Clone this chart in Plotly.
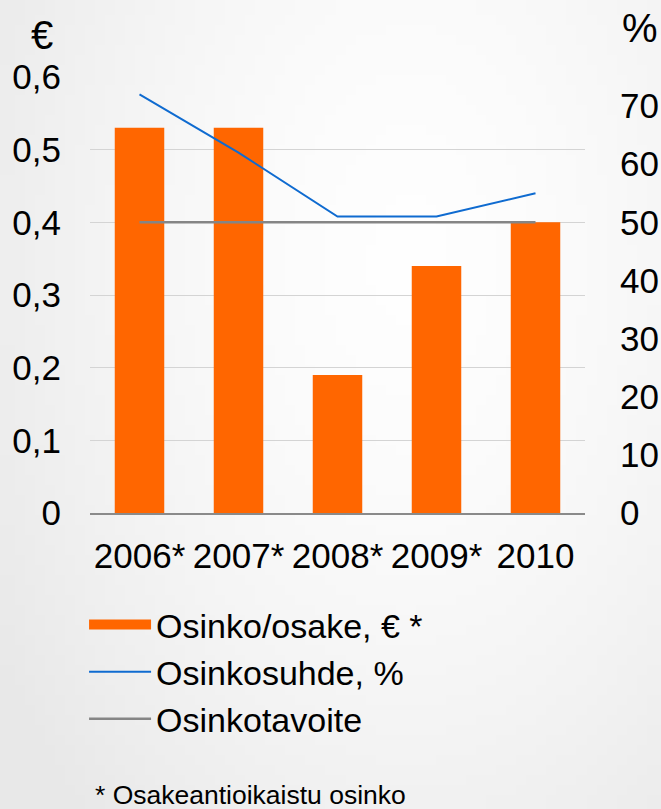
import base64
import math
import struct
import zlib

import plotly.graph_objects as go

years = ["2006*", "2007*", "2008*", "2009*", "2010"]
osinko_osake = [0.53, 0.53, 0.19, 0.34, 0.40]      # € per share (left axis)
osinkosuhde = [72, 62, 51, 51, 55]                  # payout ratio % (right axis)
osinkotavoite = [50, 50, 50, 50, 50]                # target % (right axis)

left_tickvals = [0, 0.1, 0.2, 0.3, 0.4, 0.5, 0.6]
left_ticktext = ["0", "0,1", "0,2", "0,3", "0,4", "0,5", "0,6"]
right_tickvals = [0, 10, 20, 30, 40, 50, 60, 70]

FONT = "Liberation Sans, Arial, sans-serif"
ORANGE = "#FF6600"
BLUE = "#0F6BD0"
GRAY = "#858585"

W_PX, H_PX = 661, 809
M_L, M_R, M_T, M_B = 90, 76, 77, 296


def gradient_png(w=66, h=81):
    """Soft light-gray slide background (brighter near upper centre)."""
    rows = b""
    for j in range(h):
        row = b"\x00"
        for i in range(w):
            x, y = i / (w - 1), j / (h - 1)
            d = math.hypot((x - 0.62) / 0.75, (y - 0.32) / 0.95)
            v = int(round(254 - 22 * min(d, 1.0) ** 1.6))
            row += bytes([v, v, v])
        rows += row

    def chunk(tag, data):
        c = struct.pack(">I", len(data)) + tag + data
        return c + struct.pack(">I", zlib.crc32(tag + data) & 0xFFFFFFFF)

    png = b"\x89PNG\r\n\x1a\n"
    png += chunk(b"IHDR", struct.pack(">IIBBBBB", w, h, 8, 2, 0, 0, 0))
    png += chunk(b"IDAT", zlib.compress(rows, 9))
    png += chunk(b"IEND", b"")
    return "data:image/png;base64," + base64.b64encode(png).decode()


fig = go.Figure()
fig.add_trace(go.Bar(x=years, y=osinko_osake, marker=dict(color=ORANGE, line=dict(width=0)),
                     name="Osinko/osake, € *", showlegend=False, yaxis="y"))
# legend proxy for the bar series (wide swatch)
fig.add_trace(go.Scatter(x=[None], y=[None], mode="lines", line=dict(color=ORANGE, width=20),
                         name="Osinko/osake, € *", yaxis="y"))
fig.add_trace(go.Scatter(x=years, y=osinkosuhde, mode="lines", line=dict(color=BLUE, width=2),
                         name="Osinkosuhde, %", yaxis="y2"))
fig.add_trace(go.Scatter(x=years, y=osinkotavoite, mode="lines", line=dict(color=GRAY, width=2.5),
                         name="Osinkotavoite", yaxis="y2"))

plot_w = W_PX - M_L - M_R
plot_h = H_PX - M_T - M_B

fig.update_layout(
    width=W_PX, height=H_PX,
    margin=dict(l=M_L, r=M_R, t=M_T, b=M_B, autoexpand=False),
    paper_bgcolor="#F3F3F3",
    plot_bgcolor="rgba(0,0,0,0)",
    font=dict(family=FONT, size=35, color="#000000"),
    bargap=0.5,
    images=[dict(source=gradient_png(), xref="paper", yref="paper",
                 x=-M_L / plot_w, y=1 + M_T / plot_h,
                 sizex=W_PX / plot_w, sizey=H_PX / plot_h,
                 xanchor="left", yanchor="top", sizing="stretch", layer="below")],
    xaxis=dict(type="category", showgrid=False, showline=True, linecolor="#8A8A8A", linewidth=1.5,
               ticks="outside", ticklen=11, tickcolor="rgba(0,0,0,0)", automargin=False,
               tickfont=dict(size=35)),
    yaxis=dict(range=[0, 0.6], tickvals=left_tickvals, ticktext=left_ticktext, automargin=False,
               showgrid=True, gridcolor="#D4D4D4", gridwidth=1, zeroline=False,
               ticks="outside", ticklen=21, tickcolor="rgba(0,0,0,0)", tickfont=dict(size=35)),
    yaxis2=dict(range=[0, 75], tickvals=right_tickvals, overlaying="y", side="right",
                showgrid=False, zeroline=False, automargin=False,
                ticks="outside", ticklen=27, tickcolor="rgba(0,0,0,0)", tickfont=dict(size=35)),
    legend=dict(x=-0.012, xanchor="left", y=-0.19, yanchor="top", bgcolor="rgba(0,0,0,0)",
                font=dict(size=34), itemwidth=62, traceorder="normal", tracegroupgap=0),
    annotations=[
        dict(text="€", xref="paper", yref="paper", x=-0.097, y=1.096, showarrow=False,
             xanchor="center", yanchor="middle", font=dict(size=40)),
        dict(text="%", xref="paper", yref="paper", x=1.111, y=1.112, showarrow=False,
             xanchor="center", yanchor="middle", font=dict(size=40)),
        dict(text="* Osakeantioikaistu osinko", xref="paper", yref="paper", x=0.006, y=-0.647,
             showarrow=False, xanchor="left", yanchor="middle", font=dict(size=26.5)),
    ],
)

fig.write_html("out.html", config={"displayModeBar": False},
               post_script="document.body.style.margin='0';document.body.style.overflow='hidden';")
